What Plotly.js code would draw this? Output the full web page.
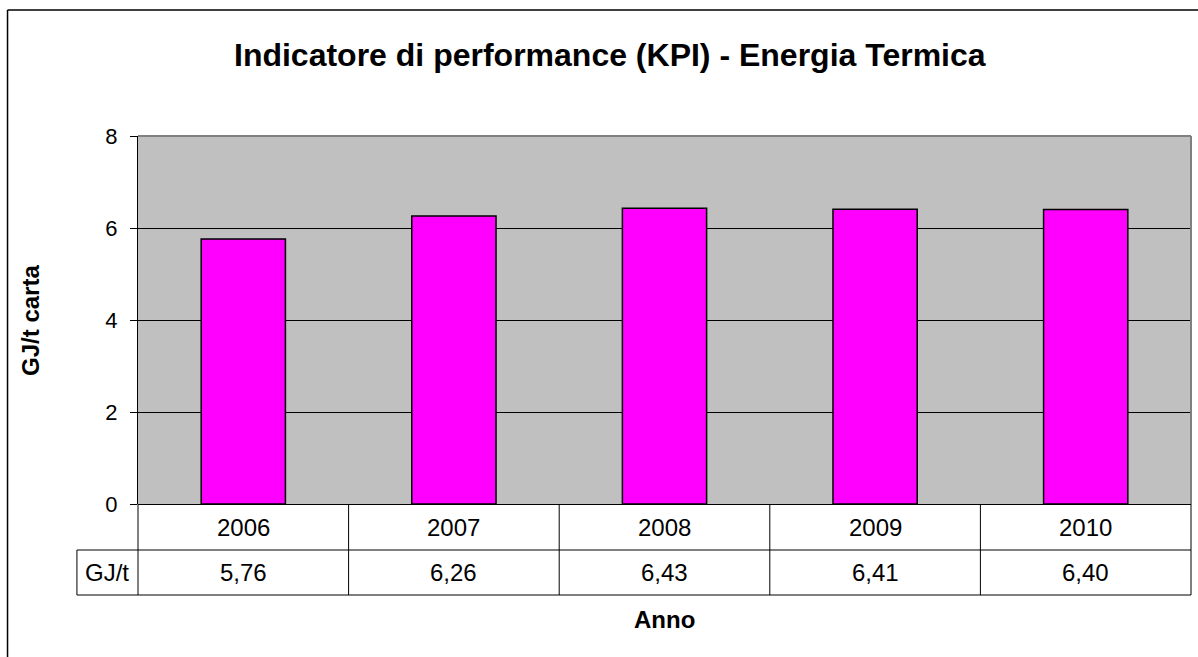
<!DOCTYPE html>
<html>
<head>
<meta charset="utf-8">
<script src="https://cdn.plot.ly/plotly-3.0.1.min.js"></script>
<style>
  body { margin: 0; background: #fff; }
  #graph { width: 1198px; height: 657px; }
</style>
</head>
<body>
<div id="graph"></div>
<script>
var anni = ["2006", "2007", "2008", "2009", "2010"];
var gjPerTon = [5.76, 6.26, 6.43, 6.41, 6.40];
var rigaLabel = "GJ/t";

function formatta(v) {
    return v.toFixed(2).replace('.', ',');
}

function graficaKPI() {
    var n = anni.length;
    var data = [
        {
            x: anni,
            y: gjPerTon,
            type: 'bar',
            marker: {
                color: '#FF00FF',
                line: { color: '#000000', width: 1.5 }
            },
            hoverinfo: 'none'
        }
    ];

    // tabella dati sotto il grafico
    var rowTop = 0, row1 = -0.125, row2 = -0.2473;
    var labelLeft = -0.058;
    var shapes = [];
    var lineStyle = { color: '#000000', width: 1 };

    shapes.push({ type: 'line', xref: 'paper', yref: 'paper', x0: labelLeft, x1: 1, y0: row1, y1: row1, line: lineStyle });
    shapes.push({ type: 'line', xref: 'paper', yref: 'paper', x0: labelLeft, x1: 1, y0: row2, y1: row2, line: lineStyle });
    shapes.push({ type: 'line', xref: 'paper', yref: 'paper', x0: labelLeft, x1: labelLeft, y0: row1, y1: row2, line: lineStyle });
    for (var i = 0; i <= n; i++) {
        shapes.push({ type: 'line', xref: 'paper', yref: 'paper', x0: i / n, x1: i / n, y0: rowTop, y1: row2, line: lineStyle });
    }
    // bordo grigio del plot area (alto e destra)
    shapes.push({ type: 'line', xref: 'paper', yref: 'paper', x0: 0, x1: 1, y0: 1, y1: 1, line: { color: '#808080', width: 2 } });
    shapes.push({ type: 'line', xref: 'paper', yref: 'paper', x0: 1, x1: 1, y0: 0, y1: 1, line: { color: '#808080', width: 2 } });
    // cornice esterna del grafico
    shapes.push({ type: 'line', xref: 'paper', yref: 'paper', x0: -0.1239, x1: -0.1239, y0: -0.42, y1: 1.3424, line: { color: '#000000', width: 1.5 } });
    shapes.push({ type: 'line', xref: 'paper', yref: 'paper', x0: -0.1239, x1: 1.01, y0: 1.3424, y1: 1.3424, line: { color: '#000000', width: 1.5 } });

    var cellFont = { family: 'Arial, Liberation Sans, sans-serif', size: 24, color: '#000000' };
    var annotations = [];
    function nota(x, y, text, font, angle) {
        return {
            x: x, y: y, xref: 'paper', yref: 'paper', text: text, showarrow: false,
            xanchor: 'center', yanchor: 'middle', align: 'center', textangle: angle || 0, font: font
        };
    }
    for (var j = 0; j < n; j++) {
        annotations.push(nota((j + 0.5) / n, -0.0625, anni[j], cellFont));
        annotations.push(nota((j + 0.5) / n, -0.186, formatta(gjPerTon[j]), cellFont));
    }
    annotations.push(nota(labelLeft / 2, -0.186, rigaLabel, cellFont));
    var titFont = { family: 'Arial, Liberation Sans, sans-serif', size: 24, color: '#000000' };
    annotations.push(nota(0.5, -0.315, '<b>Anno</b>', titFont));
    annotations.push(nota(-0.1026, 0.5, '<b>GJ/t carta</b>', titFont, -90));

    var layout = {
        width: 1198,
        height: 657,
        margin: { l: 138, r: 7, t: 136, b: 153 },
        paper_bgcolor: '#FFFFFF',
        plot_bgcolor: '#C0C0C0',
        showlegend: false,
        bargap: 0.6,
        font: { family: 'Arial, Liberation Sans, sans-serif', color: '#000000' },
        title: {
            text: '<b>Indicatore di performance (KPI) - Energia Termica</b>',
            font: { family: 'Arial, Liberation Sans, sans-serif', size: 32, color: '#000000' },
            xref: 'container', yref: 'container',
            x: 0.509, y: 0.916, xanchor: 'center', yanchor: 'middle'
        },
        xaxis: {
            type: 'category',
            range: [-0.5, n - 0.5],
            showticklabels: false,
            ticks: '',
            showgrid: false,
            showline: false,
            zeroline: false
        },
        yaxis: {
            range: [0, 8],
            dtick: 2,
            ticks: 'outside',
            ticklen: 7,
            tickcolor: '#000000',
            ticklabelstandoff: 8,
            tickfont: { family: 'Arial, Liberation Sans, sans-serif', size: 22, color: '#000000' },
            showgrid: true,
            gridcolor: '#000000',
            gridwidth: 1,
            showline: true,
            linecolor: '#000000',
            linewidth: 1,
            zeroline: true,
            zerolinecolor: '#000000',
            zerolinewidth: 1
        },
        shapes: shapes,
        annotations: annotations
    };

    Plotly.newPlot('graph', data, layout, { displayModeBar: false });
}

graficaKPI();
</script>
</body>
</html>
